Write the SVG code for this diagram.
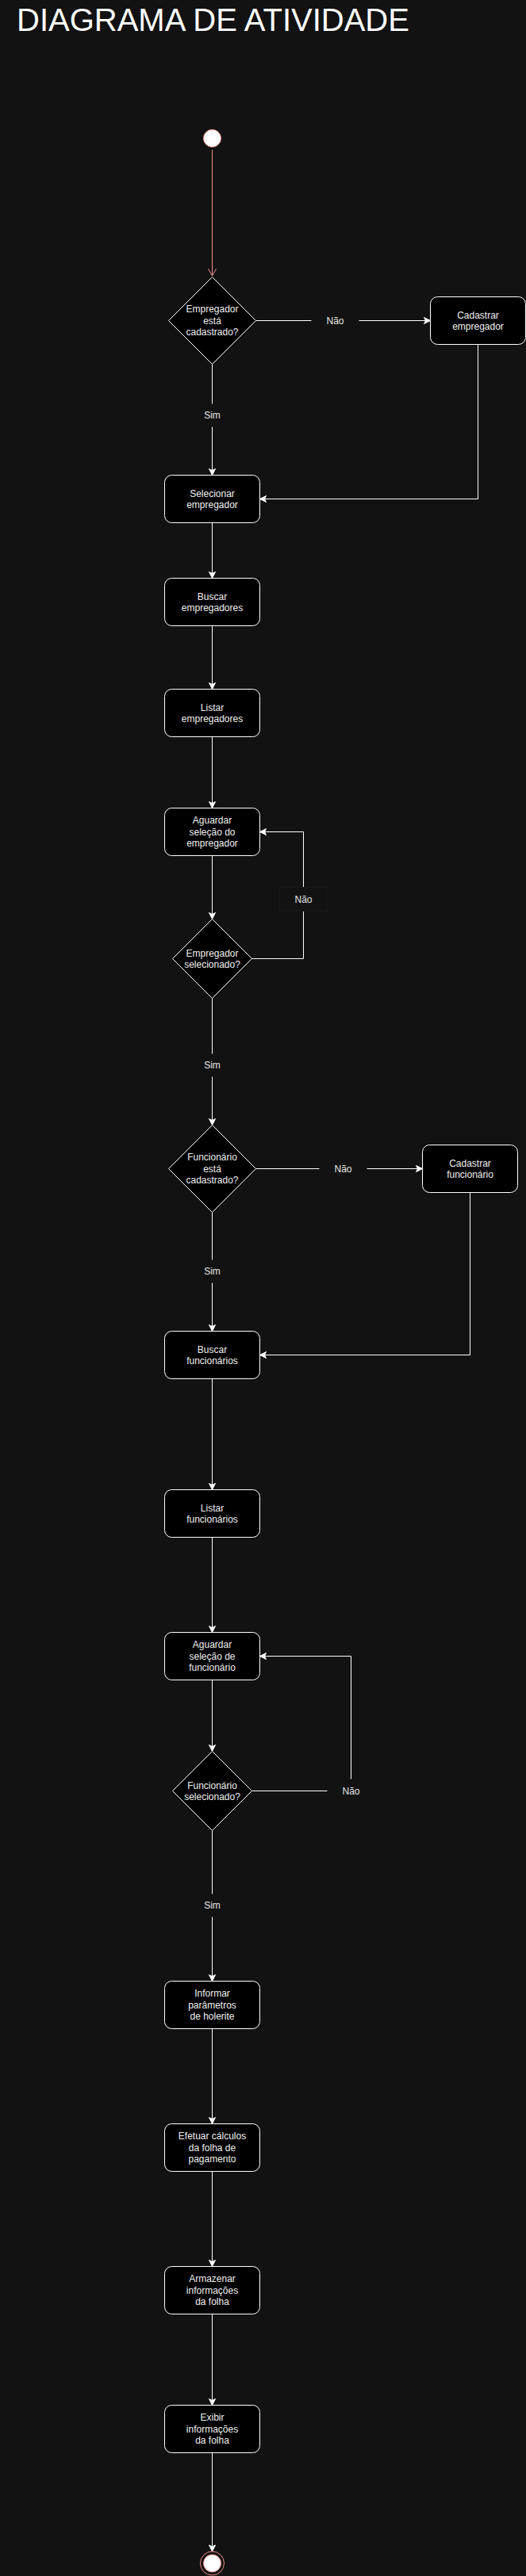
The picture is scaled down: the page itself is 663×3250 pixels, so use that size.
<svg xmlns="http://www.w3.org/2000/svg" width="663" height="3250" viewBox="0 0 663 3250">
<style>
.bg{fill:#121212}
.box{fill:#000000;stroke:#ffffff;stroke-width:1}
.dia{fill:#000000;stroke:#ffffff;stroke-width:1}
.t{font-family:"Liberation Sans",Arial,Helvetica,sans-serif;font-size:12px;fill:#f0f0f0;text-anchor:middle}
.lbl{font-family:"Liberation Sans",Arial,Helvetica,sans-serif;font-size:12px;fill:#e6e6e6;text-anchor:middle}
.e{fill:none;stroke:#ffffff;stroke-width:1;marker-end:url(#arr)}
.lb{fill:#121212}
</style>
<defs>
<marker id="arr" markerUnits="userSpaceOnUse" markerWidth="12" markerHeight="12" viewBox="-10 -6 12 12" refX="0" refY="0" orient="auto" overflow="visible">
<path d="M-8,-4 L0,0 L-8,4 L-6,0 Z" fill="#ffffff" stroke="#ffffff" stroke-width="1" stroke-linejoin="miter"/>
</marker>
<marker id="openred" markerUnits="userSpaceOnUse" markerWidth="12" markerHeight="12" viewBox="-10 -6 12 12" refX="0" refY="0" orient="auto" overflow="visible">
<path d="M-9,-5 L0,0 L-9,5" fill="none" stroke="#f08e8a" stroke-width="1"/>
</marker>
</defs>
<rect class="bg" x="0" y="0" width="663" height="3250"/>
<text id="title" x="21" y="39" font-family="'Liberation Sans',Arial,Helvetica,sans-serif" font-size="40" fill="#ffffff">DIAGRAMA DE ATIVIDADE</text>

<g id="connectors">
<path d="M267.5,189 V348" fill="none" stroke="#f08e8a" stroke-width="1" marker-end="url(#openred)"/>
<path class="e" d="M322.5,404.5 H542.5"/>
<path class="e" d="M267.5,459.5 V599.5"/>
<path class="e" d="M602.5,434.5 V629.5 H327.5"/>
<path class="e" d="M267.5,659.5 V729.5"/>
<path class="e" d="M267.5,789.5 V869.5"/>
<path class="e" d="M267.5,929.5 V1019.5"/>
<path class="e" d="M267.5,1079.5 V1159.5"/>
<path class="e" d="M317.5,1209.5 H382.5 V1049.5 H327.5"/>
<path class="e" d="M267.5,1259.5 V1419.5"/>
<path class="e" d="M322.5,1474.5 H532.5"/>
<path class="e" d="M592.5,1504.5 V1709.5 H327.5"/>
<path class="e" d="M267.5,1529.5 V1679.5"/>
<path class="e" d="M267.5,1739.5 V1879.5"/>
<path class="e" d="M267.5,1939.5 V2059.5"/>
<path class="e" d="M267.5,2119.5 V2209.5"/>
<path class="e" d="M317.5,2259.5 H442.5 V2089.5 H327.5"/>
<path class="e" d="M267.5,2309.5 V2499.5"/>
<path class="e" d="M267.5,2559.5 V2679.5"/>
<path class="e" d="M267.5,2739.5 V2859.5"/>
<path class="e" d="M267.5,2919.5 V3034.5"/>
<path class="e" d="M267.5,3094.5 V3219"/>
<rect class="lb" x="392.5" y="394.5" width="60" height="20"/>
<text class="lbl" x="422.5" y="408.7">Não</text>
<rect class="lb" x="247.5" y="509.5" width="40" height="29"/>
<text class="lbl" x="267.5" y="528.2">Sim</text>
<rect x="352.5" y="1119.5" width="60" height="30" fill="#121212" stroke="#171717" stroke-width="1"/>
<text class="lbl" x="382.5" y="1138.7">Não</text>
<rect class="lb" x="247.5" y="1329.5" width="40" height="29"/>
<text class="lbl" x="267.5" y="1348.2">Sim</text>
<rect class="lb" x="402.5" y="1464.5" width="60" height="20"/>
<text class="lbl" x="432.5" y="1478.7">Não</text>
<rect class="lb" x="247.5" y="1589.5" width="40" height="29"/>
<text class="lbl" x="267.5" y="1608.2">Sim</text>
<rect class="lb" x="412.5" y="2244.5" width="60" height="30"/>
<text class="lbl" x="442.5" y="2263.7">Não</text>
<rect class="lb" x="247.5" y="2389.5" width="40" height="29"/>
<text class="lbl" x="267.5" y="2408.2">Sim</text>
</g>

<g id="start">
<circle cx="267.5" cy="174.5" r="11" fill="#ffffff" stroke="#f08e8a" stroke-width="1"/>
</g>

<g id="d1">
<polygon class="dia" points="267.5,349.5 322.5,404.5 267.5,459.5 212.5,404.5"/>
<text class="t" x="267.5" y="394.3">Empregador</text>
<text class="t" x="267.5" y="408.7">está</text>
<text class="t" x="267.5" y="423.1">cadastrado?</text>
</g>

<g id="cad_emp">
<rect class="box" x="542.5" y="374.5" width="120" height="60" rx="9"/>
<text class="t" x="602.5" y="401.5">Cadastrar</text>
<text class="t" x="602.5" y="415.9">empregador</text>
</g>

<g id="sel_emp">
<rect class="box" x="207.5" y="599.5" width="120" height="60" rx="9"/>
<text class="t" x="267.5" y="626.5">Selecionar</text>
<text class="t" x="267.5" y="640.9">empregador</text>
</g>

<g id="busc_emp">
<rect class="box" x="207.5" y="729.5" width="120" height="60" rx="9"/>
<text class="t" x="267.5" y="756.5">Buscar</text>
<text class="t" x="267.5" y="770.9">empregadores</text>
</g>

<g id="list_emp">
<rect class="box" x="207.5" y="869.5" width="120" height="60" rx="9"/>
<text class="t" x="267.5" y="896.5">Listar</text>
<text class="t" x="267.5" y="910.9">empregadores</text>
</g>

<g id="ag_emp">
<rect class="box" x="207.5" y="1019.5" width="120" height="60" rx="9"/>
<text class="t" x="267.5" y="1039.3">Aguardar</text>
<text class="t" x="267.5" y="1053.7">seleção do</text>
<text class="t" x="267.5" y="1068.1">empregador</text>
</g>

<g id="d2">
<polygon class="dia" points="267.5,1159.5 317.5,1209.5 267.5,1259.5 217.5,1209.5"/>
<text class="t" x="267.5" y="1206.5">Empregador</text>
<text class="t" x="267.5" y="1220.9">selecionado?</text>
</g>

<g id="d3">
<polygon class="dia" points="267.5,1419.5 322.5,1474.5 267.5,1529.5 212.5,1474.5"/>
<text class="t" x="267.5" y="1464.3">Funcionário</text>
<text class="t" x="267.5" y="1478.7">está</text>
<text class="t" x="267.5" y="1493.1">cadastrado?</text>
</g>

<g id="cad_func">
<rect class="box" x="532.5" y="1444.5" width="120" height="60" rx="9"/>
<text class="t" x="592.5" y="1471.5">Cadastrar</text>
<text class="t" x="592.5" y="1485.9">funcionário</text>
</g>

<g id="busc_func">
<rect class="box" x="207.5" y="1679.5" width="120" height="60" rx="9"/>
<text class="t" x="267.5" y="1706.5">Buscar</text>
<text class="t" x="267.5" y="1720.9">funcionários</text>
</g>

<g id="list_func">
<rect class="box" x="207.5" y="1879.5" width="120" height="60" rx="9"/>
<text class="t" x="267.5" y="1906.5">Listar</text>
<text class="t" x="267.5" y="1920.9">funcionários</text>
</g>

<g id="ag_func">
<rect class="box" x="207.5" y="2059.5" width="120" height="60" rx="9"/>
<text class="t" x="267.5" y="2079.3">Aguardar</text>
<text class="t" x="267.5" y="2093.7">seleção de</text>
<text class="t" x="267.5" y="2108.1">funcionário</text>
</g>

<g id="d4">
<polygon class="dia" points="267.5,2209.5 317.5,2259.5 267.5,2309.5 217.5,2259.5"/>
<text class="t" x="267.5" y="2256.5">Funcionário</text>
<text class="t" x="267.5" y="2270.9">selecionado?</text>
</g>

<g id="informar">
<rect class="box" x="207.5" y="2499.5" width="120" height="60" rx="9"/>
<text class="t" x="267.5" y="2519.3">Informar</text>
<text class="t" x="267.5" y="2533.7">parâmetros</text>
<text class="t" x="267.5" y="2548.1">de holerite</text>
</g>

<g id="efetuar">
<rect class="box" x="207.5" y="2679.5" width="120" height="60" rx="9"/>
<text class="t" x="267.5" y="2699.3">Efetuar cálculos</text>
<text class="t" x="267.5" y="2713.7">da folha de</text>
<text class="t" x="267.5" y="2728.1">pagamento</text>
</g>

<g id="armazenar">
<rect class="box" x="207.5" y="2859.5" width="120" height="60" rx="9"/>
<text class="t" x="267.5" y="2879.3">Armazenar</text>
<text class="t" x="267.5" y="2893.7">informações</text>
<text class="t" x="267.5" y="2908.1">da folha</text>
</g>

<g id="exibir">
<rect class="box" x="207.5" y="3034.5" width="120" height="60" rx="9"/>
<text class="t" x="267.5" y="3054.3">Exibir</text>
<text class="t" x="267.5" y="3068.7">informações</text>
<text class="t" x="267.5" y="3083.1">da folha</text>
</g>

<g id="end">
<circle cx="267.5" cy="3234" r="15" fill="#121212" stroke="#f08e8a" stroke-width="1"/>
<circle cx="267.5" cy="3234" r="11" fill="#ffffff" stroke="#f08e8a" stroke-width="1"/>
</g>
</svg>
